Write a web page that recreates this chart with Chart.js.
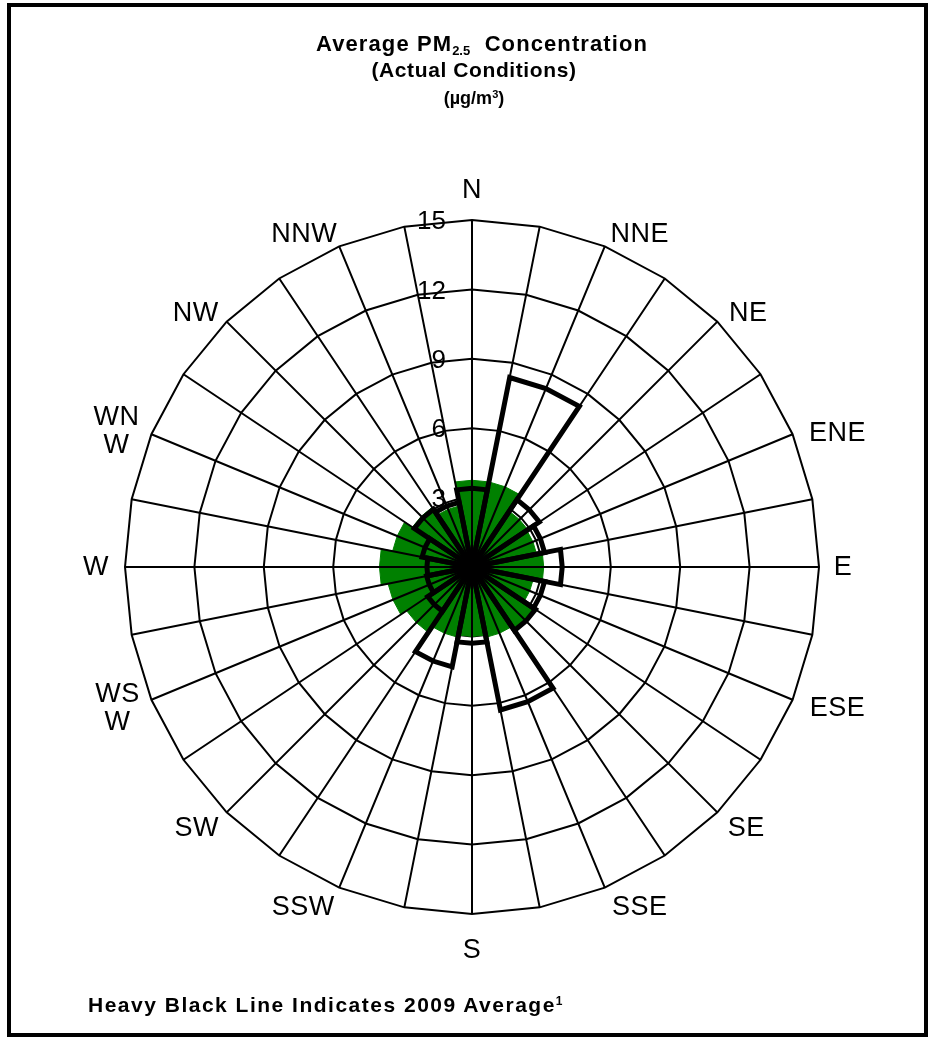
<!DOCTYPE html>
<html>
<head>
<meta charset="utf-8">
<title>Average PM2.5 Concentration</title>
<script src="https://cdn.jsdelivr.net/npm/chart.js"></script>
<style>
  html, body { margin: 0; padding: 0; background: #fff; }
  #page { position: relative; width: 931px; height: 1041px; overflow: hidden;
          font-family: "Liberation Sans", Arial, sans-serif; color: #000; }
  #frame { position: absolute; left: 7px; top: 3px; width: 921px; height: 1034px;
           border: 4px solid #000; box-sizing: border-box; }
  #rose { position: absolute; left: 0; top: 0; }
  .txt { position: absolute; white-space: nowrap; font-weight: bold; line-height: 22px; }
  .ctr { left: 474px; transform: translateX(-50%); }
  .sub { font-size: 13px; position: relative; top: 4px; letter-spacing: 0; }
  .sup { font-size: 12px; position: relative; top: -7px; letter-spacing: 0; }
</style>
</head>
<body>
<div id="page">
  <div id="frame"></div>
  <canvas id="rose" width="931" height="1041"></canvas>
  <div class="txt" style="left:316px;top:33px;font-size:22px;letter-spacing:1.1px">Average PM<span class="sub">2.5</span>&nbsp; Concentration</div>
  <div class="txt ctr" style="top:59px;font-size:21px;letter-spacing:0.6px">(Actual Conditions)</div>
  <div class="txt ctr" style="top:87px;font-size:18px;">(µg/m<span class="sup" style="font-size:11px;top:-6px">3</span>)</div>
  <div class="txt" style="left:88px;top:994px;font-size:21px;letter-spacing:1.5px">Heavy Black Line Indicates 2009 Average<span class="sup">1</span></div>
</div>
<script>
// Wind directions, clockwise from north
const directions = ['N', 'NNE', 'NE', 'ENE', 'E', 'ESE', 'SE', 'SSE',
                    'S', 'SSW', 'SW', 'WSW', 'W', 'WNW', 'NW', 'NNW'];
// How each direction name is written around the rose
const directionText = ['N', 'NNE', 'NE', 'ENE', 'E', 'ESE', 'SE', 'SSE',
                       'S', 'SSW', 'SW', ['WS', 'W'], 'W', ['WN', 'W'], 'NW', 'NNW'];
// Average PM2.5 (µg/m³) by wind direction, actual conditions (green wedges)
const currentAvg = [3.75, 3.75, 2.9, 2.85, 3.1, 2.7, 3.3, 3.1,
                    3.0, 3.1, 3.4, 3.7, 4.0, 3.5, 3.1, 2.7];
// 2009 average by wind direction (heavy black outline)
const avg2009 = [3.4, 8.35, 3.5, 3.2, 3.9, 3.2, 3.3, 6.3,
                 3.3, 4.4, 2.3, 2.0, 1.95, 2.2, 3.0, 2.85];
// Radial axis
const tickValues = [3, 6, 9, 12, 15];

// Offset (px) of each direction name from the end of its spoke
const labelOffset = [[0, -30], [35, -13], [31, -9], [45, -2], [24, 0], [45, 8], [29, 15], [35, 19],
                     [0, 36], [-36, 19], [-30, 15], [-34, 8], [-29, 0], [-35, -4], [-31, -9], [-35, -13]];

// 32 spokes: one on each direction and one on each boundary between directions
const spokeCount = directions.length * 2;
const spokeLabels = [];
for (let i = 0; i < spokeCount; i++) spokeLabels.push(i % 2 === 0 ? directions[i / 2] : '');

// Each direction becomes a wedge spanning its two neighbouring boundary spokes
function wedge(k, v) {
  const d = new Array(spokeCount).fill(0);
  const c = 2 * k;
  d[(c - 1 + spokeCount) % spokeCount] = v;
  d[c] = v;
  d[(c + 1) % spokeCount] = v;
  return d;
}

const datasets = [];
directions.forEach((name, k) => {
  datasets.push({
    label: name + ' 2009',
    data: wedge(k, avg2009[k]),
    fill: false,
    borderColor: '#000',
    borderWidth: 5,
    borderJoinStyle: 'miter',
    pointRadius: 0, pointHitRadius: 0,
    order: 0
  });
});
directions.forEach((name, k) => {
  datasets.push({
    label: name,
    data: wedge(k, currentAvg[k]),
    fill: true,
    backgroundColor: '#008000',
    borderColor: '#008000',
    borderWidth: 1,
    pointRadius: 0, pointHitRadius: 0,
    order: 1
  });
});

// Spokes over the wedges, plus the axis values and the direction names
const roseDecor = {
  id: 'roseDecor',
  afterDatasetsDraw(chart) {
    const s = chart.scales.r;
    const ctx = chart.ctx;
    const outer = s.getDistanceFromCenterForValue(s.max);
    ctx.save();
    ctx.strokeStyle = '#000';
    ctx.lineWidth = 2;
    ctx.beginPath();
    for (let i = 0; i < spokeCount; i++) {
      const p = s.getPointPosition(i, outer);
      ctx.moveTo(s.xCenter, s.yCenter);
      ctx.lineTo(p.x, p.y);
    }
    ctx.stroke();

    ctx.fillStyle = '#000';
    ctx.font = '26px "Liberation Sans", Arial, sans-serif';
    ctx.letterSpacing = '0px';
    ctx.textAlign = 'right';
    ctx.textBaseline = 'middle';
    tickValues.forEach(v => {
      const d = s.getDistanceFromCenterForValue(v);
      ctx.fillText(String(v), s.xCenter - 26, s.yCenter - d + 2);
    });

    ctx.font = '27px "Liberation Sans", Arial, sans-serif';
    ctx.textAlign = 'center';
    ctx.letterSpacing = '0.5px';
    directionText.forEach((t, k) => {
      const lines = Array.isArray(t) ? t : [t];
      const p = s.getPointPosition(2 * k, outer);
      const lh = 28;
      const cx = p.x + labelOffset[k][0];
      const cy = p.y + labelOffset[k][1];
      const y0 = cy - (lines.length - 1) * lh / 2;
      lines.forEach((ln, j) => ctx.fillText(ln, cx, y0 + j * lh + 1));
    });
    ctx.restore();
  }
};

new Chart(document.getElementById('rose'), {
  type: 'radar',
  data: { labels: spokeLabels, datasets },
  options: {
    responsive: false,
    animation: false,
    devicePixelRatio: 1,
    layout: { padding: { left: 125, top: 220, right: 112, bottom: 127 } },
    elements: { line: { tension: 0 } },
    plugins: { legend: { display: false }, tooltip: { enabled: false }, title: { display: false } },
    scales: {
      r: {
        min: 0,
        max: 15,
        beginAtZero: true,
        ticks: { display: false, stepSize: 3 },
        pointLabels: { display: false },
        angleLines: { display: false },
        grid: { circular: false, color: '#000', lineWidth: 2 }
      }
    }
  },
  plugins: [roseDecor]
});
</script>
</body>
</html>
